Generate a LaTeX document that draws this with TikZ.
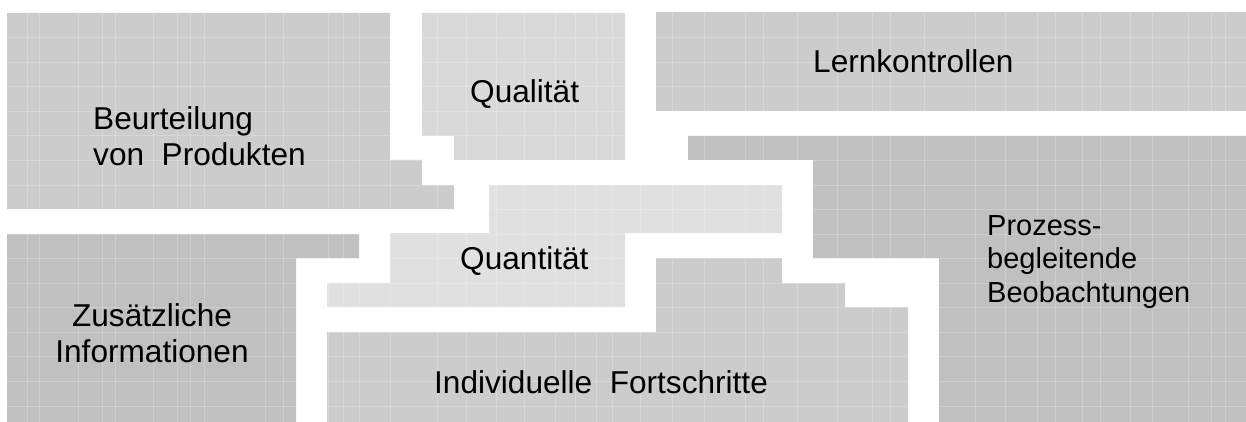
\documentclass[tikz,border=0pt]{standalone}
\usepackage{fontspec}
\setmainfont{Liberation Sans}
\definecolor{gA}{HTML}{CCCCCC}
\definecolor{gB}{HTML}{D9D9D9}
\definecolor{gC}{HTML}{C0C0C0}
\definecolor{gD}{HTML}{E0E0E0}
\newcommand\mygridlines{%
  \foreach \yy in {37.5,62.1,86.6,111.2,135.7,160.3,184.8,209.4,234,258.5,283,307.6,332,356.7,381.2,405.8}
    {\draw[gridline] (0,\yy) -- (1246,\yy);}
  \foreach \xx in {27,39,78,102,115,153,177,190,204,265,283,328,343,359,390,437,466,496,524,555,575,596,612,640,672,704,745,763,797,837,872,890,924,975,1005,1037,1055,1082,1100,1130,1152,1188,1211,1225}
    {\draw[gridline] (\xx,0) -- (\xx,422);}
}
\tikzset{
  gridline/.style={white, opacity=0.22, line width=0.6pt},
  lbl/.style={anchor=base west, inner sep=0pt, text=black, font=\fontsize{31.6}{36}\selectfont},
  lblc/.style={anchor=base, inner sep=0pt, text=black, font=\fontsize{31.6}{36}\selectfont},
  lbls/.style={anchor=base west, inner sep=0pt, text=black, font=\fontsize{29}{33}\selectfont},
}
\begin{document}
\begin{tikzpicture}[x=1pt,y=-1pt]
\useasboundingbox (0,0) rectangle (1246,422);
\fill[white] (0,0) rectangle (1246,422);
% Beurteilung von Produkten
\begin{scope}
\clip (7,13) -- (390,13) -- (390,160) -- (422,160) -- (422,185) -- (454,185) -- (454,209) -- (7,209) -- cycle;
\fill[gA] (0,0) rectangle (1246,422);
\mygridlines
\end{scope}
% Qualitaet
\begin{scope}
\clip (422,13) -- (625,13) -- (625,160) -- (454,160) -- (454,136) -- (422,136) -- cycle;
\fill[gB] (0,0) rectangle (1246,422);
\mygridlines
\end{scope}
% Lernkontrollen
\begin{scope}
\clip (656,13) -- (1246,13) -- (1246,111) -- (656,111) -- cycle;
\fill[gA] (0,0) rectangle (1246,422);
\mygridlines
\end{scope}
% Prozessbegleitende Beobachtungen
\begin{scope}
\clip (688,136) -- (1246,136) -- (1246,422) -- (939,422) -- (939,258) -- (813,258) -- (813,160) -- (688,160) -- cycle;
\fill[gC] (0,0) rectangle (1246,422);
\mygridlines
\end{scope}
% Quantitaet
\begin{scope}
\clip (489,185) -- (782,185) -- (782,233) -- (625,233) -- (625,307) -- (327,307) -- (327,283) -- (390,283) -- (390,233) -- (489,233) -- cycle;
\fill[gD] (0,0) rectangle (1246,422);
\mygridlines
\end{scope}
% Zusaetzliche Informationen
\begin{scope}
\clip (7,234) -- (359,234) -- (359,258) -- (296,258) -- (296,422) -- (7,422) -- cycle;
\fill[gC] (0,0) rectangle (1246,422);
\mygridlines
\end{scope}
% Individuelle Fortschritte
\begin{scope}
\clip (327,332) -- (656,332) -- (656,258) -- (782,258) -- (782,283) -- (845,283) -- (845,307) -- (908,307) -- (908,422) -- (327,422) -- cycle;
\fill[gA] (0,0) rectangle (1246,422);
\mygridlines
\end{scope}
% labels
\node[lbl] (beu1) at (93,129.5) {Beurteilung};
\node[lbl] (beu2) at (93,165.5) {von\ \ Produkten};
\node[lbl] (qual) at (470,103) {Qualität};
\node[lbl] (lern) at (813,73) {Lernkontrollen};
\node[lbl] (quan) at (460,269) {Quantität};
\node[lblc] (zus1) at (152,326) {Zusätzliche};
\node[lblc] (zus2) at (152,362) {Informationen};
\node[lbl] (indi) at (434,393) {Individuelle\ \ Fortschritte};
\node[lbls] (pro1) at (987,235) {Prozess-};
\node[lbls] (pro2) at (987,268.5) {begleitende};
\node[lbls] (pro3) at (987,302) {Beobachtungen};
\end{tikzpicture}
\end{document}
